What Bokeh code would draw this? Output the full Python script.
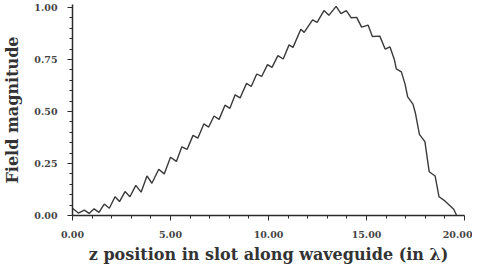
from bokeh.plotting import figure
from bokeh.models import FixedTicker, Range1d
from bokeh.embed import file_html
from bokeh.resources import INLINE

# z position (in wavelengths) and field magnitude
z_pos = [0.00, 0.30, 0.60, 0.85, 1.10, 1.35, 1.62, 1.88, 2.17, 2.40,
         2.68, 2.93, 3.23, 3.50, 3.80, 4.05, 4.40, 4.68, 5.00, 5.30,
         5.58, 5.85, 6.15, 6.40, 6.70, 6.95, 7.22, 7.48, 7.78, 8.03,
         8.30, 8.55, 8.88, 9.12, 9.40, 9.65, 9.95, 10.18, 10.48, 10.75,
         11.05, 11.25, 11.65, 11.82, 12.25, 12.48, 12.83, 13.08, 13.45, 13.70,
         13.97, 14.22, 14.50, 14.75, 15.08, 15.30, 15.68, 15.95, 16.20, 16.42,
         16.52, 16.78, 16.97, 17.10, 17.37, 17.50, 17.70, 17.98, 18.20, 18.50,
         18.70, 19.00, 19.45, 19.60]
field_mag = [0.035, 0.012, 0.026, 0.010, 0.032, 0.015, 0.055, 0.035, 0.090, 0.067,
             0.115, 0.090, 0.145, 0.112, 0.190, 0.155, 0.222, 0.200, 0.280, 0.260,
             0.330, 0.318, 0.385, 0.372, 0.440, 0.425, 0.478, 0.462, 0.530, 0.515,
             0.580, 0.565, 0.635, 0.620, 0.680, 0.668, 0.725, 0.712, 0.768, 0.752,
             0.820, 0.808, 0.895, 0.880, 0.940, 0.928, 0.985, 0.962, 1.005, 0.970,
             0.985, 0.950, 0.952, 0.905, 0.915, 0.860, 0.862, 0.800, 0.810, 0.750,
             0.705, 0.690, 0.630, 0.570, 0.535, 0.490, 0.390, 0.355, 0.210, 0.190,
             0.090, 0.070, 0.030, 0.000]

x_ticks = [0, 5, 10, 15, 20]
x_tick_labels = ["0.00", "5.00", "10.00", "15.00", "20.00"]
x_minor = [1, 2, 3, 4, 6, 7, 8, 9, 11, 12, 13, 14, 16, 17, 18, 19]
y_ticks = [0, 0.25, 0.5, 0.75, 1.0]
y_tick_labels = ["0.00", "0.25", "0.50", "0.75", "1.00"]
y_minor = [0.05, 0.10, 0.15, 0.20, 0.30, 0.35, 0.40, 0.45,
           0.55, 0.60, 0.65, 0.70, 0.80, 0.85, 0.90, 0.95]

p = figure(width=472, height=266, output_backend="svg", toolbar_location=None,
           x_range=Range1d(0, 20), y_range=Range1d(0, 1.014),
           min_border_left=68, min_border_right=8, min_border_top=4,
           min_border_bottom=50)
p.outline_line_color = None
p.xgrid.visible = False
p.ygrid.visible = False
p.background_fill_color = "white"
p.border_fill_color = "white"

p.line(z_pos, field_mag, line_color="#3a3a3a", line_width=1.4)

ink = "#2a2a2a"
for ax in (p.xaxis[0], p.yaxis[0]):
    ax.axis_line_color = ink
    ax.axis_line_width = 1.5
    ax.major_tick_line_color = ink
    ax.minor_tick_line_color = ink
    ax.major_tick_in = 0
    ax.major_tick_out = 5
    ax.minor_tick_in = 0
    ax.minor_tick_out = 3
    ax.major_label_text_font = "DejaVu Serif"
    ax.major_label_text_font_style = "bold"
    ax.major_label_text_font_size = "9.5px"
    ax.major_label_text_color = "#444444"
    ax.axis_label_text_font = "DejaVu Serif"
    ax.axis_label_text_font_style = "bold"
    ax.axis_label_text_font_size = "16px"
    ax.axis_label_text_color = "#333333"

p.xaxis[0].ticker = FixedTicker(ticks=x_ticks, minor_ticks=x_minor)
p.xaxis[0].major_label_overrides = dict(zip(x_ticks, x_tick_labels))
p.xaxis[0].major_label_standoff = 10
p.xaxis[0].axis_label = "z position in slot along waveguide (in λ)"
p.xaxis[0].axis_label_standoff = 4

p.yaxis[0].ticker = FixedTicker(ticks=y_ticks, minor_ticks=y_minor)
p.yaxis[0].major_label_overrides = dict(zip(y_ticks, y_tick_labels))
p.yaxis[0].major_label_standoff = 10
p.yaxis[0].axis_label = "Field magnitude"
p.yaxis[0].axis_label_standoff = 9

open("out.html", "w").write(file_html(p, INLINE))
